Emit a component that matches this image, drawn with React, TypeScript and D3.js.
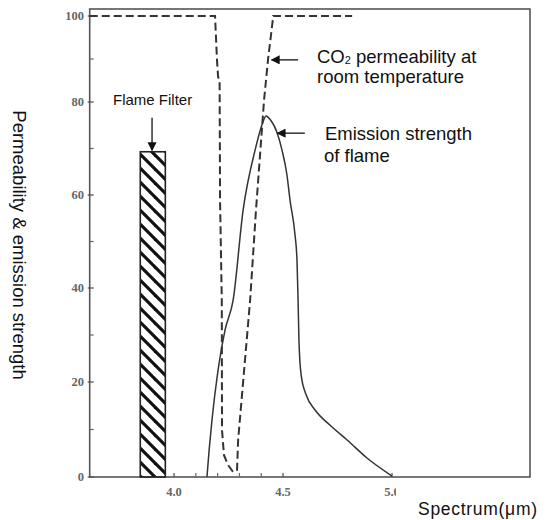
import React from "react";
import * as d3 from "d3";

// ---- data ----
const co2X = [3.613, 4.188, 4.197, 4.202, 4.209, 4.211, 4.219, 4.220, 4.229, 4.248, 4.271, 4.289, 4.294, 4.349, 4.376, 4.413, 4.431, 4.453, 4.455, 4.817];
const co2Y = [100, 100, 89.8, 85.8, 85.1, 58.9, 37.4, 9.9, 4.6, 2.5, 1.05, 1.5, 7.8, 37.4, 56.8, 80.5, 89.8, 99.1, 100, 100];

const emisX = [4.151, 4.161, 4.174, 4.202, 4.234, 4.271, 4.317, 4.372, 4.408, 4.422, 4.44, 4.472, 4.495, 4.518, 4.532, 4.555, 4.564, 4.569, 4.573, 4.583, 4.606, 4.647, 4.716, 4.794, 4.885, 5.0];
const emisY = [0, 5.7, 12.0, 22.6, 31.1, 37.4, 56.8, 69.7, 75.7, 77.0, 76.3, 73.5, 69.7, 64.3, 58.9, 51.4, 46.0, 37.4, 28.9, 21.5, 17.3, 14.1, 10.9, 7.8, 4.0, 0.2];

const filterRange = [3.845, 3.96];
const filterValue = 69.3;

const yTicks = [0, 20, 40, 60, 80, 100];
const yMinorTicks = [10, 30, 50, 70, 90];
const xTicks = [4.0, 4.5, 5.0];
const xTickLabels = ["4.0", "4.5", "5.0"];
const xMinorTicks = [4.1, 4.2, 4.3, 4.4];

const yTitle = "Permeability & emission strength";
const xTitle = "Spectrum(μm)";
const filterLabel = "Flame Filter";
const co2Label1 = ["CO", "2", " permeability at"];
const co2Label2 = "room temperature";
const emisLabel1 = "Emission strength";
const emisLabel2 = "of flame";

export default function App() {
  const x = d3.scaleLinear().domain([3.613, 5.633]).range([89.7, 530]);
  // the scanned axis is slightly uneven, so map each labelled tick to its place
  const y = d3.scaleLinear().domain([0, 20, 40, 60, 80, 100, 101.6]).range([477, 382, 288, 195, 102, 16, 9]);
  const co2Path = d3.line<[number, number]>().x(d => x(d[0])).y(d => y(d[1]))(co2X.map((v, i) => [v, co2Y[i]]));
  const emisPath = d3.line<[number, number]>().x(d => x(d[0])).y(d => y(d[1])).curve(d3.curveMonotoneX)(emisX.map((v, i) => [v, emisY[i]]));
  const tickFont = { fontFamily: "'Liberation Serif', 'DejaVu Serif', serif", fontWeight: 700, fontSize: 12.5, fill: "#666" };
  const labelFont = { fontFamily: "'Liberation Sans', Arial, sans-serif", fill: "#111" };
  const x0 = x(3.613);

  return (
    <svg width={550} height={520} style={{ position: "absolute", left: 0, top: 0, background: "#fff" }}>
      <defs>
        <pattern id="hatch" patternUnits="userSpaceOnUse" width={14} height={14}>
          <line x1={-2} y1={-2} x2={16} y2={16} stroke="#111" strokeWidth={3.2} />
          <line x1={-9} y1={5} x2={9} y2={23} stroke="#111" strokeWidth={3.2} />
          <line x1={5} y1={-9} x2={23} y2={9} stroke="#111" strokeWidth={3.2} />
        </pattern>
        <marker id="arrowL" viewBox="0 0 10 10" refX={9} refY={5} markerWidth={7} markerHeight={7} orient="auto">
          <path d="M0,0 L10,5 L0,10 z" fill="#111" />
        </marker>
        <clipPath id="clipLabel">
          <rect x={0} y={0} width={396} height={520} />
        </clipPath>
      </defs>

      {/* frame */}
      <rect x={x0} y={y(101.6)} width={x(5.633) - x0} height={y(0) - y(101.6)} fill="none" stroke="#555" strokeWidth={1.6} />

      {/* y ticks */}
      {yTicks.map(t => (
        <g key={"yt" + t}>
          <line x1={x0 - 2} x2={x0 + 4} y1={y(t)} y2={y(t)} stroke="#555" strokeWidth={1.3} />
          <text x={84} y={y(t)} dy="0.35em" textAnchor="end" {...tickFont}>{t}</text>
        </g>
      ))}
      {yMinorTicks.map(t => (
        <line key={"ym" + t} x1={x0} x2={x0 + 4} y1={y(t)} y2={y(t)} stroke="#666" strokeWidth={1.2} />
      ))}
      {/* x ticks */}
      {xTicks.map((t, i) => (
        <g key={"xt" + t}>
          <line x1={x(t)} x2={x(t)} y1={y(0)} y2={y(0) - 4} stroke="#555" strokeWidth={1.3} />
          <text x={x(t)} y={496} textAnchor="middle" {...tickFont} clipPath={i === 2 ? "url(#clipLabel)" : undefined}>{xTickLabels[i]}</text>
        </g>
      ))}
      {xMinorTicks.map(t => (
        <line key={"xm" + t} x1={x(t)} x2={x(t)} y1={y(0)} y2={y(0) - 4} stroke="#666" strokeWidth={1.2} />
      ))}

      {/* flame filter bar */}
      <rect x={x(filterRange[0])} y={y(filterValue)} width={x(filterRange[1]) - x(filterRange[0])} height={y(0) - y(filterValue)} fill="url(#hatch)" stroke="#222" strokeWidth={1.6} />

      {/* curves */}
      <path d={co2Path || ""} fill="none" stroke="#333" strokeWidth={2} strokeDasharray="8,4" />
      <path d={emisPath || ""} fill="none" stroke="#333" strokeWidth={1.5} />

      {/* annotations */}
      <text x={113} y={105} fontSize={15} {...labelFont}>{filterLabel}</text>
      <line x1={x(3.899)} x2={x(3.899)} y1={y(76.6)} y2={y(69.6)} stroke="#111" strokeWidth={1.3} markerEnd="url(#arrowL)" />

      <line x1={x(4.569)} x2={x(4.447)} y1={y(89.8)} y2={y(89.8)} stroke="#111" strokeWidth={1.3} markerEnd="url(#arrowL)" />
      <text x={317} y={63} fontSize={18.5} {...labelFont}>
        {co2Label1[0]}
        <tspan fontSize={11} dy={1}>{co2Label1[1]}</tspan>
        <tspan dy={-1}>{co2Label1[2]}</tspan>
      </text>
      <text x={317} y={83} fontSize={18.5} {...labelFont}>{co2Label2}</text>

      <line x1={x(4.60)} x2={x(4.474)} y1={y(73.3)} y2={y(73.3)} stroke="#111" strokeWidth={1.3} markerEnd="url(#arrowL)" />
      <text x={325} y={140} fontSize={18.5} {...labelFont}>{emisLabel1}</text>
      <text x={324} y={162} fontSize={18.5} {...labelFont}>{emisLabel2}</text>

      {/* axis titles */}
      <text transform={`translate(13,245) rotate(90)`} textAnchor="middle" fontSize={18.5} {...labelFont}>{yTitle}</text>
      <text x={418} y={515} fontSize={17.5} textLength={119} lengthAdjust="spacing" {...labelFont}>{xTitle}</text>
    </svg>
  );
}
